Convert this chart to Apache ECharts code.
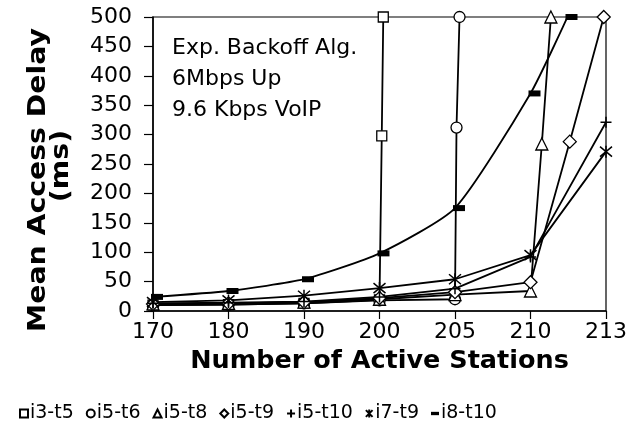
<!DOCTYPE html>
<html>
<head>
<meta charset="utf-8">
<script src="https://cdn.jsdelivr.net/npm/echarts@6/dist/echarts.min.js"></script>
<style>
  html, body { margin: 0; padding: 0; background: #fff; }
  #chart { width: 641px; height: 432px; }
</style>
</head>
<body>
<div id="chart"></div>
<script>
// x positions are in category steps: 0 = 170 ... 6 = 213
const categories = ['170', '180', '190', '200', '205', '210', '213'];
const yTicks = [0, 50, 100, 150, 200, 250, 300, 350, 400, 450, 500];

const i3t5X = [0, 1, 2, 3, 3.03, 3.05];
const i3t5Y = [10, 11, 13, 19, 298, 500];
const i5t6X = [0, 1, 2, 3, 4, 4.02, 4.06];
const i5t6Y = [10, 11, 13, 18, 20, 312, 500];
const i5t8X = [0, 1, 2, 3, 4, 5, 5.15, 5.27];
const i5t8Y = [12, 13, 15, 20, 28, 34, 284, 500];
const i5t9X = [0, 1, 2, 3, 4, 5, 5.52, 5.97];
const i5t9Y = [12, 13, 15, 22, 32, 49, 288, 500];
const i5t10X = [0, 1, 2, 3, 4, 5, 6];
const i5t10Y = [13, 14, 16, 24, 38, 92, 321];
const i7t9X = [0, 1, 2, 3, 4, 5, 6];
const i7t9Y = [15, 18, 26, 39, 54, 95, 271];
const i8t10X = [0, 1, 2, 3, 4, 5, 5.49];
const i8t10Y = [24, 34, 54, 98, 175, 370, 500];

const FONT = 'DejaVu Sans';
const plusPath = 'path://M0,5L10,5M5,0L5,10';
const starPath = 'path://M0,0L10,10M10,0L0,10M5,-1L5,11';
const dashPath = 'path://M0,0L12,0L12,5L0,5Z';

const pairs = (xs, ys) => xs.map((x, i) => [x, ys[i]]);

const mk = (name, xs, ys, symbol, size, extra) => Object.assign({
    name: name,
    type: 'line',
    data: pairs(xs, ys),
    symbol: symbol,
    symbolSize: size,
    showAllSymbol: true,
    lineStyle: { color: '#000', width: 1.8 },
    itemStyle: { color: '#fff', borderColor: '#000', borderWidth: 1.3 },
    emphasis: { disabled: true },
    animation: false,
    z: 3
}, extra || {});

const chart = echarts.init(document.getElementById('chart'));

const option = {
    backgroundColor: '#fff',
    animation: false,
    grid: {
        left: 153, right: 35, top: 17, bottom: 121,
        show: true, borderColor: '#000', borderWidth: 1.2
    },
    xAxis: {
        type: 'value',
        min: 0, max: 6, interval: 1,
        name: 'Number of Active Stations',
        nameLocation: 'middle',
        nameGap: 26,
        nameTextStyle: { fontFamily: FONT, fontWeight: 'bold', fontSize: 25.5, color: '#000' },
        axisLine: { lineStyle: { color: '#000', width: 1.5 } },
        axisTick: { show: true, length: 8, lineStyle: { color: '#000', width: 1.2 } },
        axisLabel: {
            margin: 10, fontFamily: FONT, fontSize: 22, color: '#000',
            formatter: v => categories[Math.round(v)]
        },
        splitLine: { show: false }
    },
    yAxis: {
        type: 'value',
        min: yTicks[0], max: yTicks[yTicks.length - 1], interval: 50,
        axisLine: { show: true, lineStyle: { color: '#000', width: 1.5 } },
        axisTick: { show: true, length: 9, lineStyle: { color: '#000', width: 1.2 } },
        axisLabel: { margin: 21, fontFamily: FONT, fontSize: 22, color: '#000' },
        splitLine: { show: false }
    },
    legend: {
        left: 14, top: 399,
        itemWidth: 8, itemHeight: 8, itemGap: 12,
        textStyle: { fontFamily: FONT, fontSize: 19, color: '#000', padding: [0, 0, 0, -3] },
        data: [
            { name: 'i3-t5', icon: 'rect' },
            { name: 'i5-t6', icon: 'circle' },
            { name: 'i5-t8', icon: 'triangle' },
            { name: 'i5-t9', icon: 'diamond' },
            { name: 'i5-t10', icon: plusPath },
            { name: 'i7-t9', icon: starPath },
            { name: 'i8-t10', icon: dashPath, itemStyle: { color: '#000', borderColor: '#000' } }
        ]
    },
    graphic: [
        {
            type: 'text', left: 172, top: 33,
            style: {
                text: 'Exp. Backoff Alg.\n6Mbps Up\n9.6 Kbps VoIP',
                font: '22px "DejaVu Sans"', fill: '#000', lineHeight: 31
            }
        },
        {
            type: 'text', x: 39, y: 180, rotation: Math.PI / 2, scaleX: 1.18,
            style: {
                text: 'Mean Access Delay', font: 'bold 24px "DejaVu Sans"', fill: '#000',
                align: 'center', verticalAlign: 'middle'
            }
        },
        {
            type: 'text', x: 62, y: 166, rotation: Math.PI / 2, scaleX: 1.18,
            style: {
                text: '(ms)', font: 'bold 24px "DejaVu Sans"', fill: '#000',
                align: 'center', verticalAlign: 'middle'
            }
        }
    ],
    series: [
        mk('i3-t5', i3t5X, i3t5Y, 'rect', 10),
        mk('i5-t6', i5t6X, i5t6Y, 'circle', 11),
        mk('i5-t8', i5t8X, i5t8Y, 'triangle', 12),
        mk('i5-t9', i5t9X, i5t9Y, 'diamond', 13),
        mk('i5-t10', i5t10X, i5t10Y, plusPath, 11, { itemStyle: { color: '#000', borderColor: '#000', borderWidth: 1.5 } }),
        mk('i7-t9', i7t9X, i7t9Y, starPath, 12, { itemStyle: { color: '#000', borderColor: '#000', borderWidth: 1.5 } }),
        mk('i8-t10', i8t10X, i8t10Y, dashPath, [12, 6], {
            smooth: 0.2,
            symbolOffset: [4, 0],
            itemStyle: { color: '#000', borderColor: '#000', borderWidth: 0 }
        })
    ]
};

chart.setOption(option);
</script>
</body>
</html>
